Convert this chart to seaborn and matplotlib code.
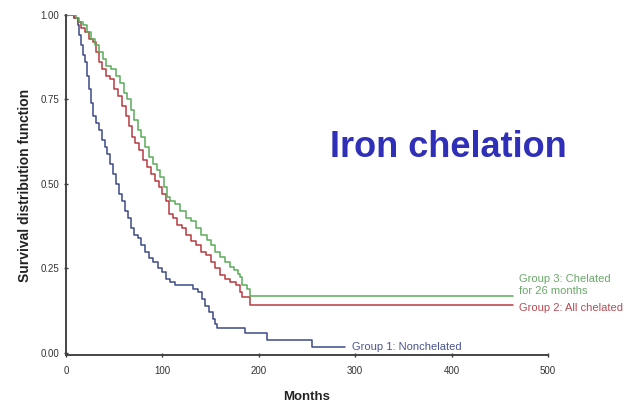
import matplotlib
matplotlib.use("Agg")
import matplotlib.pyplot as plt
import seaborn as sns
import pandas as pd

# Kaplan-Meier step points (months, survival probability)
g1_months = [0, 8, 12, 14, 16, 18, 20, 22, 24, 26, 28, 31, 34, 37, 40, 43, 46, 49, 52, 55,
             58, 61, 64, 67, 71, 75, 78, 82, 86, 90, 95, 100, 104, 108, 113, 132, 137, 141,
             144, 148, 152, 155, 157, 186, 208, 255, 289]
g1_surv = [1.00, 0.99, 0.97, 0.94, 0.91, 0.88, 0.86, 0.82, 0.78, 0.74, 0.70, 0.68, 0.66, 0.63,
           0.61, 0.59, 0.56, 0.53, 0.50, 0.47, 0.45, 0.42, 0.40, 0.37, 0.35, 0.34, 0.32, 0.30,
           0.28, 0.27, 0.25, 0.24, 0.22, 0.21, 0.20, 0.19, 0.18, 0.16, 0.14, 0.12, 0.10, 0.085,
           0.074, 0.059, 0.039, 0.018, 0.018]

g2_months = [0, 8, 12, 16, 20, 24, 28, 31, 34, 37, 42, 46, 50, 54, 58, 62, 65, 68, 72, 76,
             80, 84, 88, 92, 96, 100, 104, 107, 111, 115, 120, 125, 130, 135, 140, 145, 150,
             155, 160, 165, 170, 176, 180, 183, 191, 464]
g2_surv = [1.00, 0.99, 0.98, 0.96, 0.95, 0.93, 0.92, 0.89, 0.86, 0.84, 0.82, 0.81, 0.78, 0.76,
           0.73, 0.70, 0.67, 0.64, 0.62, 0.60, 0.57, 0.55, 0.53, 0.51, 0.49, 0.47, 0.45, 0.41,
           0.40, 0.38, 0.37, 0.35, 0.33, 0.32, 0.30, 0.29, 0.27, 0.25, 0.23, 0.22, 0.21, 0.20,
           0.18, 0.165, 0.142, 0.142]

g3_months = [0, 10, 14, 18, 22, 26, 30, 34, 38, 42, 47, 52, 56, 60, 63, 67, 71, 75, 78, 82,
             86, 90, 94, 98, 102, 105, 108, 113, 118, 124, 130, 135, 140, 146, 150, 155, 160,
             165, 170, 174, 178, 181, 183, 188, 191, 464]
g3_surv = [1.00, 0.99, 0.98, 0.97, 0.95, 0.93, 0.91, 0.89, 0.87, 0.85, 0.84, 0.82, 0.80, 0.77,
           0.75, 0.72, 0.69, 0.66, 0.64, 0.61, 0.58, 0.56, 0.54, 0.52, 0.49, 0.46, 0.45, 0.44,
           0.42, 0.40, 0.39, 0.37, 0.35, 0.335, 0.32, 0.30, 0.285, 0.27, 0.255, 0.245, 0.235,
           0.225, 0.20, 0.19, 0.169, 0.169]

group_names = ["Group 1: Nonchelated", "Group 2: All chelated", "Group 3: Chelated for 26 months"]
group_colors = ["#3d4a86", "#b83a40", "#5aac5a"]
x_ticks = [0, 100, 200, 300, 400, 500]
y_ticks = [0.00, 0.25, 0.50, 0.75, 1.00]

frames = []
for name, m, s in zip(group_names, [g1_months, g2_months, g3_months], [g1_surv, g2_surv, g3_surv]):
    frames.append(pd.DataFrame({"Months": m, "Survival": s, "Group": name}))
df = pd.concat(frames, ignore_index=True)

sns.set_style("ticks")
plt.rcParams["font.family"] = ["Liberation Sans", "DejaVu Sans"]

fig = plt.figure(figsize=(6.26, 4.03), dpi=100)
ax = fig.add_axes([0.1054, 0.119, 0.770, 0.844])

sns.lineplot(data=df, x="Months", y="Survival", hue="Group", hue_order=group_names,
             palette=group_colors, estimator=None, drawstyle="steps-post",
             linewidth=1.1, legend=False, ax=ax)

ax.set_xlim(0, 500)
ax.set_ylim(-0.006, 1.0)
ax.set_xticks(x_ticks)
ax.set_xticklabels([str(t) for t in x_ticks])
ax.set_yticks(y_ticks)
ax.set_yticklabels([f"{t:.2f}" for t in y_ticks])
ax.tick_params(axis="both", labelsize=7, length=3.5, width=1.0, colors="#333333",
               direction="inout")
ax.tick_params(axis="x", pad=6)
ax.tick_params(axis="y", pad=3)
for side in ("top", "right"):
    ax.spines[side].set_visible(False)
for side in ("left", "bottom"):
    ax.spines[side].set_linewidth(1.4)
    ax.spines[side].set_color("#444444")

ax.set_xlabel("Months", fontsize=9.5, fontweight="bold", color="#222222", labelpad=11)
ax.set_ylabel("Survival distribution function", fontsize=10, fontweight="bold",
              color="#222222", labelpad=6)

# curve end labels
ax.text(470, 0.200, "Group 3: Chelated\nfor 26 months", color="#6aa86a", fontsize=8.0,
        va="center", ha="left", linespacing=1.25, clip_on=False)
ax.text(470, 0.134, "Group 2: All chelated", color="#b84a52", fontsize=8.0,
        va="center", ha="left", clip_on=False)
ax.text(297, 0.018, "Group 1: Nonchelated", color="#4a5590", fontsize=8.0,
        va="center", ha="left", clip_on=False)

fig.text(0.527, 0.635, "Iron chelation", color="#2f2fb8", fontsize=26, fontweight="bold",
         ha="left", va="center")

fig.savefig("out.png", dpi=100)
